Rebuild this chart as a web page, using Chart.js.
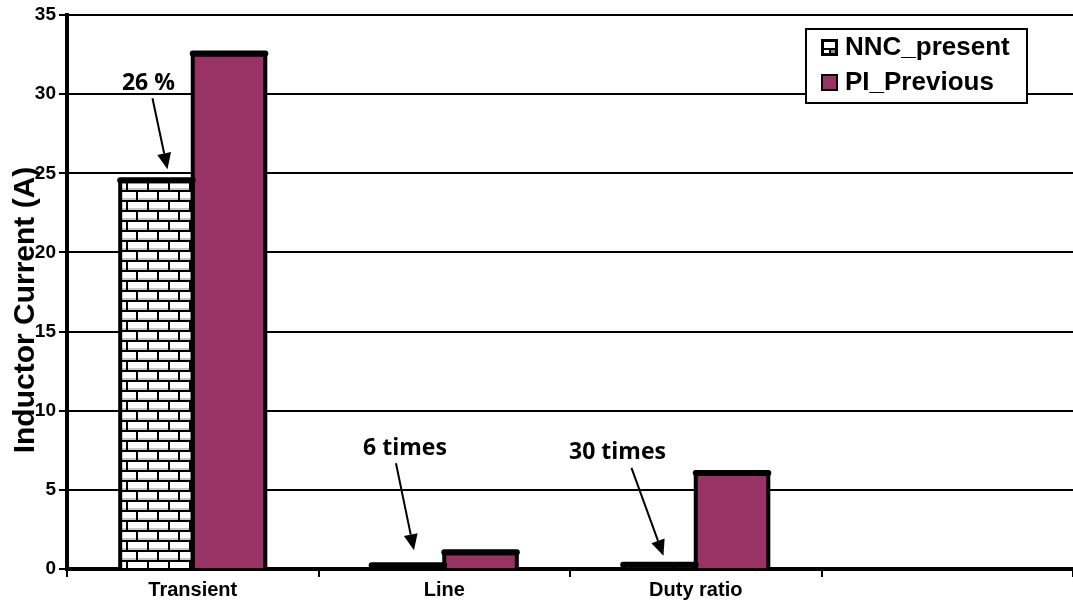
<!DOCTYPE html>
<html>
<head>
<meta charset="utf-8">
<script src="https://cdn.jsdelivr.net/npm/chart.js@4.4.1/dist/chart.umd.min.js"></script>
<style>
  html, body { margin: 0; padding: 0; background: #fff; overflow: hidden; }
  #wrap { width: 1073px; height: 607px; position: relative; }
</style>
</head>
<body>
<div id="wrap"><canvas id="chart" width="1073" height="607"></canvas></div>
<script>
// data
const categories = ["Transient", "Line", "Duty ratio", ""];
const nncPresent = [24.5, 0.17, 0.2, null];
const piPrevious = [32.5, 1.0, 6.0, null];
const yTicks = [0, 5, 10, 15, 20, 25, 30, 35];
const notes = ["26 %", "6 times", "30 times"];

// where each note and arrow sits, relative to the top of the NNC bar it points at
const noteLayout = [
  { label: [-8, -98], from: [-4, -83], to: [11, -12] },
  { label: [-3, -118], from: [-12, -103], to: [6, -16] },
  { label: [-42, -113], from: [-28, -98], to: [4, -10] }
];

function brickPattern() {
  const c = document.createElement("canvas");
  c.width = 21; c.height = 20;
  const g = c.getContext("2d");
  g.fillStyle = "#fff";
  g.fillRect(0, 0, 21, 20);
  g.fillStyle = "#c8c8c8";
  g.fillRect(0, 8, 21, 2);
  g.fillRect(0, 18, 21, 2);
  g.fillStyle = "#000";
  g.fillRect(0, 0, 21, 2);
  g.fillRect(0, 10, 21, 2);
  g.fillRect(0, 2, 2, 8);
  g.fillRect(10, 12, 2, 8);
  const ctx = document.getElementById("chart").getContext("2d");
  return ctx.createPattern(c, "repeat");
}

const bricks = brickPattern();
const maroon = "#993366";

// thick black outlines round every bar, heavier on top
const barOutline = {
  id: "barOutline",
  afterDatasetsDraw(chart) {
    const ctx = chart.ctx;
    ctx.save();
    ctx.strokeStyle = "#000";
    chart.data.datasets.forEach((ds, d) => {
      chart.getDatasetMeta(d).data.forEach((bar, i) => {
        if (ds.data[i] == null) return;
        const l = bar.x - bar.width / 2, r = bar.x + bar.width / 2;
        ctx.lineWidth = 4;
        ctx.lineJoin = "round";
        ctx.beginPath();
        ctx.moveTo(l, bar.base);
        ctx.lineTo(l, bar.y);
        ctx.lineTo(r, bar.y);
        ctx.lineTo(r, bar.base);
        ctx.stroke();
        ctx.lineWidth = 6;
        ctx.lineCap = "round";
        ctx.beginPath();
        ctx.moveTo(l, bar.y - 1);
        ctx.lineTo(r, bar.y - 1);
        ctx.stroke();
        ctx.lineCap = "butt";
      });
    });
    ctx.restore();
  }
};

const overlay = {
  id: "overlay",
  afterDraw(chart) {
    const ctx = chart.ctx;
    ctx.save();

    // y axis title, overlapping the tick labels like the original
    ctx.font = "bold 30px 'Liberation Sans', Arial, sans-serif";
    ctx.fillStyle = "#000";
    ctx.textAlign = "center";
    ctx.textBaseline = "middle";
    ctx.translate(26, 310);
    ctx.rotate(-Math.PI / 2);
    ctx.fillText("Inductor Current (A)", 0, 0);
    ctx.setTransform(1, 0, 0, 1, 0, 0);

    // notes with arrows
    const meta = chart.getDatasetMeta(0);
    notes.forEach((txt, i) => {
      const bar = meta.data[i];
      const L = noteLayout[i];
      const bx = bar.x, by = bar.y;
      ctx.font = "bold 23px 'Open Sans', sans-serif";
      ctx.fillStyle = "#000";
      ctx.textAlign = "center";
      ctx.textBaseline = "middle";
      ctx.fillText(txt, bx + L.label[0], by + L.label[1]);

      const x1 = bx + L.from[0], y1 = by + L.from[1];
      const x2 = bx + L.to[0], y2 = by + L.to[1];
      const ang = Math.atan2(y2 - y1, x2 - x1);
      const headLen = 16, headW = 7;
      const hx = x2 - headLen * Math.cos(ang), hy = y2 - headLen * Math.sin(ang);
      ctx.strokeStyle = "#000";
      ctx.lineWidth = 2;
      ctx.beginPath();
      ctx.moveTo(x1, y1);
      ctx.lineTo(hx, hy);
      ctx.stroke();
      ctx.beginPath();
      ctx.moveTo(x2, y2);
      ctx.lineTo(hx + headW * Math.sin(ang), hy - headW * Math.cos(ang));
      ctx.lineTo(hx - headW * Math.sin(ang), hy + headW * Math.cos(ang));
      ctx.closePath();
      ctx.fill();
    });

    // legend box
    ctx.fillStyle = "#fff";
    ctx.fillRect(806, 29, 221, 74);
    ctx.strokeStyle = "#000";
    ctx.lineWidth = 2;
    ctx.strokeRect(806, 29, 221, 74);

    chart.data.datasets.forEach((ds, i) => {
      const y = 47 + i * 35;
      const bx = 821, by = y - 8, s = 17;
      if (i === 0) {
        // the brick swatch reads as a black square with a white brick in it
        ctx.fillStyle = "#000";
        ctx.fillRect(bx, by, s, s);
        ctx.fillStyle = "#fff";
        ctx.fillRect(bx + 3, by + 3, 11, 6);
        ctx.fillRect(bx + 3, by + 11, 5, 3);
        ctx.fillStyle = "#999";
        ctx.fillRect(bx + 10, by + 11, 4, 3);
      } else {
        ctx.fillStyle = ds.backgroundColor;
        ctx.fillRect(bx, by, s, s);
        ctx.strokeStyle = "#000";
        ctx.lineWidth = 2;
        ctx.strokeRect(bx + 1, by + 1, s - 2, s - 2);
      }
      ctx.fillStyle = "#000";
      ctx.font = "bold 26px 'Liberation Sans', Arial, sans-serif";
      ctx.textAlign = "left";
      ctx.textBaseline = "middle";
      ctx.fillText(ds.label, 845, y + 1);
    });

    ctx.restore();
  }
};

new Chart(document.getElementById("chart"), {
  type: "bar",
  data: {
    labels: categories,
    datasets: [
      {
        label: "NNC_present",
        data: nncPresent,
        backgroundColor: bricks,
        borderWidth: 0
      },
      {
        label: "PI_Previous",
        data: piPrevious,
        backgroundColor: maroon,
        borderWidth: 0
      }
    ]
  },
  options: {
    responsive: false,
    animation: false,
    events: [],
    layout: { padding: { top: 15, left: 0, right: 0, bottom: 0 } },
    plugins: { legend: { display: false }, tooltip: { enabled: false } },
    datasets: { bar: { categoryPercentage: 0.577, barPercentage: 1.0 } },
    scales: {
      x: {
        afterFit: s => { s.height = 38; },
        border: { display: true, color: "#000", width: 4 },
        grid: {
          display: true,
          offset: true,
          drawOnChartArea: false,
          drawTicks: true,
          tickLength: 8,
          color: "#000",
          lineWidth: 2
        },
        ticks: {
          color: "#000",
          padding: 1,
          font: { family: "'Liberation Sans', Arial, sans-serif", size: 20, weight: "bold" }
        }
      },
      y: {
        min: 0,
        max: 35,
        afterFit: s => { s.width = 67; },
        afterBuildTicks: s => { s.ticks = yTicks.map(v => ({ value: v })); },
        border: { display: true, color: "#000", width: 4 },
        grid: {
          color: "#000",
          lineWidth: 2,
          tickLength: 8
        },
        ticks: {
          color: "#000",
          padding: 3,
          font: { family: "'Liberation Sans', Arial, sans-serif", size: 19, weight: "bold" }
        }
      }
    }
  },
  plugins: [barOutline, overlay]
});
</script>
</body>
</html>
